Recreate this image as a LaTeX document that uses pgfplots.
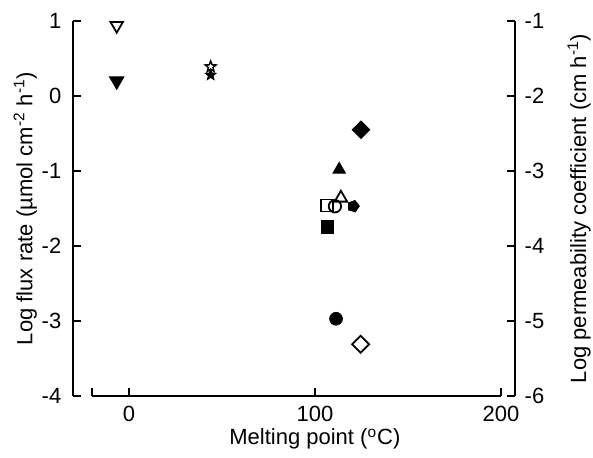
\documentclass[border=0pt]{standalone}
\usepackage{fontspec}
\setmainfont{Liberation Sans}
\usepackage{pgfplots}
\pgfplotsset{compat=1.18}
\pgfdeclareplotmark{fivestar}{%
  \pgfpathmoveto{\pgfpointpolar{90}{\pgfplotmarksize}}%
  \pgfpathlineto{\pgfpointpolar{126}{0.42\pgfplotmarksize}}%
  \pgfpathlineto{\pgfpointpolar{162}{\pgfplotmarksize}}%
  \pgfpathlineto{\pgfpointpolar{198}{0.42\pgfplotmarksize}}%
  \pgfpathlineto{\pgfpointpolar{234}{\pgfplotmarksize}}%
  \pgfpathlineto{\pgfpointpolar{270}{0.42\pgfplotmarksize}}%
  \pgfpathlineto{\pgfpointpolar{306}{\pgfplotmarksize}}%
  \pgfpathlineto{\pgfpointpolar{342}{0.42\pgfplotmarksize}}%
  \pgfpathlineto{\pgfpointpolar{18}{\pgfplotmarksize}}%
  \pgfpathlineto{\pgfpointpolar{54}{0.42\pgfplotmarksize}}%
  \pgfpathclose
  \pgfusepathqstroke}
\pgfdeclareplotmark{fivestar*}{%
  \pgfpathmoveto{\pgfpointpolar{90}{\pgfplotmarksize}}%
  \pgfpathlineto{\pgfpointpolar{126}{0.42\pgfplotmarksize}}%
  \pgfpathlineto{\pgfpointpolar{162}{\pgfplotmarksize}}%
  \pgfpathlineto{\pgfpointpolar{198}{0.42\pgfplotmarksize}}%
  \pgfpathlineto{\pgfpointpolar{234}{\pgfplotmarksize}}%
  \pgfpathlineto{\pgfpointpolar{270}{0.42\pgfplotmarksize}}%
  \pgfpathlineto{\pgfpointpolar{306}{\pgfplotmarksize}}%
  \pgfpathlineto{\pgfpointpolar{342}{0.42\pgfplotmarksize}}%
  \pgfpathlineto{\pgfpointpolar{18}{\pgfplotmarksize}}%
  \pgfpathlineto{\pgfpointpolar{54}{0.42\pgfplotmarksize}}%
  \pgfpathclose
  \pgfusepathqfillstroke}
\begin{document}
\fontsize{11}{13}\selectfont
\begin{tikzpicture}
\useasboundingbox (-36.5pt,-30.5pt) rectangle (260pt,198pt);
\pgfplotsset{
  common/.style={
    scale only axis, width=221pt, height=187.5pt,
    tick align=inside, major tick length=4pt,
    axis line style={line width=1.3pt,-},
    every tick/.style={line width=1.1pt,black},
    tick label style={font=\fontsize{11}{13}\selectfont},
    label style={font=\fontsize{11}{13}\selectfont},
    clip=false,
  }
}
% left axis with data
\begin{axis}[common,
  xmin=-29.7, xmax=207.9, ymin=-4, ymax=1,
  axis x line=none, axis y line*=left,
  ytick={-4,-3,-2,-1,0,1}, yticklabels={-4,-3,-2,-1,0,1},
  yticklabel style={xshift=-2pt},
  ylabel={Log flux rate (µmol cm\textsuperscript{-2} h\textsuperscript{-1})},
  ylabel style={at={(axis description cs:-0.108,0.5)}, anchor=center},
]
% open down triangle
\addplot[only marks, mark=triangle, mark size=3.6pt, mark options={rotate=180, line width=0.9pt, draw=black}] coordinates {(-6.2,0.94)};
% filled down triangle
\addplot[only marks, mark=triangle*, mark size=4.2pt, mark options={rotate=180, draw=black, fill=black}] coordinates {(-6.2,0.20)};
% filled star
\addplot[only marks, mark=fivestar*, mark size=2.9pt, mark options={draw=black, fill=black, line width=0.4pt}] coordinates {(44.3,0.28)};
% open star
\addplot[only marks, mark=fivestar, mark size=2.9pt, mark options={draw=black, line width=0.7pt}] coordinates {(44.3,0.39)};
% filled diamond
\addplot[only marks, mark=square*, mark size=3.1pt, mark options={rotate=45, draw=black, fill=black}] coordinates {(125.1,-0.45)};
% filled up triangle
\addplot[only marks, mark=triangle*, mark size=3.6pt, mark options={draw=black, fill=black}] coordinates {(113.4,-0.98)};
% open up triangle
\addplot[only marks, mark=triangle, mark size=3.6pt, mark options={line width=0.9pt, draw=black}] coordinates {(114.3,-1.36)};
% open square
\addplot[only marks, mark=square, mark size=3pt, mark options={line width=0.9pt, draw=black}] coordinates {(106.7,-1.46)};
% open circle
\addplot[only marks, mark=o, mark size=3.1pt, mark options={line width=0.9pt, draw=black}] coordinates {(111.1,-1.47)};
% filled small pentagon
\addplot[only marks, mark=pentagon*, mark size=3pt, mark options={rotate=200, draw=black, fill=black}] coordinates {(121.0,-1.47)};
% filled square
\addplot[only marks, mark=square*, mark size=3.2pt, mark options={draw=black, fill=black}] coordinates {(107.0,-1.74)};
% filled circle
\addplot[only marks, mark=*, mark size=3.2pt, mark options={draw=black, fill=black}] coordinates {(111.7,-2.97)};
% open diamond
\addplot[only marks, mark=square, mark size=3pt, mark options={rotate=45, line width=0.9pt, draw=black}] coordinates {(124.9,-3.31)};
\end{axis}
% right axis
\begin{axis}[common,
  xmin=0, xmax=1, ymin=-6, ymax=-1,
  axis x line=none, axis y line*=right,
  ytick={-6,-5,-4,-3,-2,-1}, yticklabels={-6,-5,-4,-3,-2,-1},
  yticklabel style={xshift=1pt},
  ylabel={Log permeability coefficient (cm h\textsuperscript{-1})},
  ylabel style={at={(axis description cs:1.145,0.5)}, anchor=center, rotate=0},
]
\end{axis}
% bottom axis
\begin{axis}[common, at={(9.35pt,0pt)}, width=204.6pt,
  xmin=-20, xmax=200, ymin=-4, ymax=1,
  axis y line=none, axis x line*=bottom,
  xtick={-20,0,100,200}, xticklabels={,0,100,200},
  xticklabel style={yshift=-1pt},
  xlabel={Melting point (\textsuperscript{o}C)},
  xlabel style={at={(axis description cs:0.5454,-0.115)}, anchor=center},
]
\end{axis}
\end{tikzpicture}
\end{document}
